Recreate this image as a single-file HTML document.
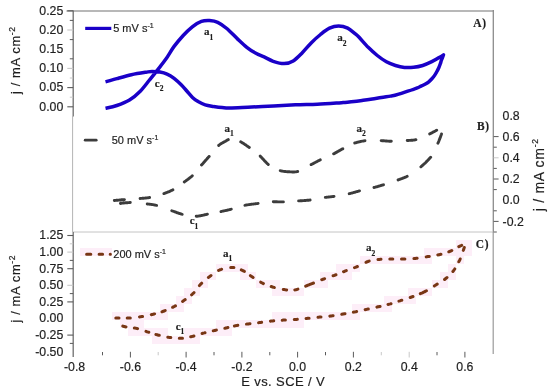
<!DOCTYPE html>
<html><head><meta charset="utf-8"><title>CV</title><style>
*{margin:0;padding:0}
html,body{width:550px;height:390px;overflow:hidden;background:#fff}
svg{display:block;will-change:transform}
text{font-family:"Liberation Sans",sans-serif;fill:#1e1e1e;stroke:#1e1e1e;stroke-width:0.18px}
.tl{font-size:12.3px}
.at{font-size:13px;letter-spacing:0.6px}
.sup{font-size:8.5px}
.xl{letter-spacing:0.4px}
.atb{font-size:14px;letter-spacing:0.7px}
.lg{font-size:11px}
.sup2{font-size:7px}
.pl{font-family:"Liberation Serif",serif;font-weight:bold;font-size:13px;letter-spacing:0.8px}
.pk{font-family:"Liberation Serif",serif;font-weight:bold;font-size:11px}
.sb{font-size:7.5px}
</style></head>
<body><svg width="550" height="390" viewBox="0 0 550 390">
<rect x="0" y="0" width="550" height="390" fill="#fff"/>
<line x1="66.5" y1="11" x2="494" y2="11" stroke="#a0a0a0" stroke-width="1.6"/>
<line x1="493.3" y1="10" x2="493.3" y2="232" stroke="#8c8c8c" stroke-width="1.3"/>
<line x1="73.2" y1="10.5" x2="73.2" y2="116.5" stroke="#6e6e6e" stroke-width="1.3"/>
<line x1="72.6" y1="116" x2="72.6" y2="232" stroke="#b4b4b4" stroke-width="1"/>
<line x1="73" y1="232" x2="493.5" y2="232" stroke="#c4c4c4" stroke-width="1"/>
<line x1="493.2" y1="232" x2="493.2" y2="354" stroke="#9a9a9a" stroke-width="1.2"/>
<line x1="73.2" y1="232" x2="73.2" y2="357" stroke="#6e6e6e" stroke-width="1.3"/>
<line x1="67.3" y1="10.8" x2="73.2" y2="10.8" stroke="#5a5a5a" stroke-width="1.1"/>
<line x1="69.8" y1="20.4" x2="73.2" y2="20.4" stroke="#5a5a5a" stroke-width="1.0"/>
<line x1="67.3" y1="30.0" x2="73.2" y2="30.0" stroke="#c8c8c8" stroke-width="1.1"/>
<line x1="69.8" y1="39.6" x2="73.2" y2="39.6" stroke="#5a5a5a" stroke-width="1.0"/>
<line x1="69.8" y1="58.8" x2="73.2" y2="58.8" stroke="#5a5a5a" stroke-width="1.0"/>
<line x1="67.3" y1="68.4" x2="73.2" y2="68.4" stroke="#c8c8c8" stroke-width="1.1"/>
<line x1="69.8" y1="78.0" x2="73.2" y2="78.0" stroke="#c8c8c8" stroke-width="1.0"/>
<line x1="67.3" y1="87.6" x2="73.2" y2="87.6" stroke="#5a5a5a" stroke-width="1.1"/>
<line x1="69.8" y1="97.2" x2="73.2" y2="97.2" stroke="#c8c8c8" stroke-width="1.0"/>
<line x1="67.3" y1="106.8" x2="73.2" y2="106.8" stroke="#5a5a5a" stroke-width="1.1"/>
<text x="63.3" y="14.6" class="tl" text-anchor="end">0.25</text>
<text x="63.3" y="33.8" class="tl" text-anchor="end">0.20</text>
<text x="63.3" y="53.0" class="tl" text-anchor="end">0.15</text>
<text x="63.3" y="72.2" class="tl" text-anchor="end">0.10</text>
<text x="63.3" y="91.4" class="tl" text-anchor="end">0.05</text>
<text x="63.3" y="110.6" class="tl" text-anchor="end">0.00</text>
<line x1="493.6" y1="136.6" x2="498.6" y2="136.6" stroke="#5a5a5a" stroke-width="1.0"/>
<line x1="493.6" y1="147.2" x2="496.8" y2="147.2" stroke="#5a5a5a" stroke-width="1.0"/>
<line x1="493.6" y1="157.8" x2="498.6" y2="157.8" stroke="#c8c8c8" stroke-width="1.0"/>
<line x1="493.6" y1="168.4" x2="496.8" y2="168.4" stroke="#5a5a5a" stroke-width="1.0"/>
<line x1="493.6" y1="179.0" x2="498.6" y2="179.0" stroke="#5a5a5a" stroke-width="1.0"/>
<line x1="493.6" y1="189.6" x2="496.8" y2="189.6" stroke="#5a5a5a" stroke-width="1.0"/>
<line x1="493.6" y1="210.8" x2="496.8" y2="210.8" stroke="#5a5a5a" stroke-width="1.0"/>
<line x1="493.6" y1="221.4" x2="498.6" y2="221.4" stroke="#5a5a5a" stroke-width="1.0"/>
<line x1="493.6" y1="232.0" x2="496.8" y2="232.0" stroke="#5a5a5a" stroke-width="1.0"/>
<text x="502.6" y="119.5" class="tl">0.8</text>
<text x="502.6" y="140.7" class="tl">0.6</text>
<text x="502.6" y="161.9" class="tl">0.4</text>
<text x="502.6" y="183.1" class="tl">0.2</text>
<text x="502.6" y="204.3" class="tl">0.0</text>
<text x="502.6" y="225.5" class="tl">-0.2</text>
<line x1="67.3" y1="235.5" x2="73.2" y2="235.5" stroke="#5a5a5a" stroke-width="1.1"/>
<line x1="69.8" y1="243.8" x2="73.2" y2="243.8" stroke="#c8c8c8" stroke-width="1.0"/>
<line x1="67.3" y1="252.1" x2="73.2" y2="252.1" stroke="#c8c8c8" stroke-width="1.1"/>
<line x1="69.8" y1="260.4" x2="73.2" y2="260.4" stroke="#5a5a5a" stroke-width="1.0"/>
<line x1="67.3" y1="268.7" x2="73.2" y2="268.7" stroke="#5a5a5a" stroke-width="1.1"/>
<line x1="67.3" y1="285.3" x2="73.2" y2="285.3" stroke="#c8c8c8" stroke-width="1.1"/>
<line x1="69.8" y1="293.6" x2="73.2" y2="293.6" stroke="#5a5a5a" stroke-width="1.0"/>
<line x1="67.3" y1="301.9" x2="73.2" y2="301.9" stroke="#5a5a5a" stroke-width="1.1"/>
<line x1="67.3" y1="335.1" x2="73.2" y2="335.1" stroke="#5a5a5a" stroke-width="1.1"/>
<line x1="69.8" y1="343.4" x2="73.2" y2="343.4" stroke="#5a5a5a" stroke-width="1.0"/>
<text x="63.3" y="239.3" class="tl" text-anchor="end">1.25</text>
<text x="63.3" y="255.9" class="tl" text-anchor="end">1.00</text>
<text x="63.3" y="272.5" class="tl" text-anchor="end">0.75</text>
<text x="63.3" y="289.1" class="tl" text-anchor="end">0.50</text>
<text x="63.3" y="305.7" class="tl" text-anchor="end">0.25</text>
<text x="63.3" y="322.3" class="tl" text-anchor="end">0.00</text>
<text x="63.3" y="338.9" class="tl" text-anchor="end">-0.25</text>
<text x="63.3" y="355.5" class="tl" text-anchor="end">-0.50</text>
<text x="74.6" y="370.6" class="tl" text-anchor="middle">-0.8</text>
<line x1="102.5" y1="352" x2="102.5" y2="355.3" stroke="#5a5a5a" stroke-width="1.0"/>
<line x1="130.4" y1="351.8" x2="130.4" y2="357.5" stroke="#5a5a5a" stroke-width="1.0"/>
<text x="130.4" y="370.6" class="tl" text-anchor="middle">-0.6</text>
<line x1="158.2" y1="352" x2="158.2" y2="355.3" stroke="#c8c8c8" stroke-width="1.0"/>
<line x1="186.1" y1="351.8" x2="186.1" y2="357.5" stroke="#5a5a5a" stroke-width="1.0"/>
<text x="186.1" y="370.6" class="tl" text-anchor="middle">-0.4</text>
<line x1="214.0" y1="352" x2="214.0" y2="355.3" stroke="#5a5a5a" stroke-width="1.0"/>
<line x1="241.9" y1="351.8" x2="241.9" y2="357.5" stroke="#5a5a5a" stroke-width="1.0"/>
<text x="241.9" y="370.6" class="tl" text-anchor="middle">-0.2</text>
<line x1="269.8" y1="352" x2="269.8" y2="355.3" stroke="#5a5a5a" stroke-width="1.0"/>
<line x1="297.6" y1="351.8" x2="297.6" y2="357.5" stroke="#5a5a5a" stroke-width="1.0"/>
<text x="297.6" y="370.6" class="tl" text-anchor="middle">0.0</text>
<line x1="325.5" y1="352" x2="325.5" y2="355.3" stroke="#5a5a5a" stroke-width="1.0"/>
<line x1="353.4" y1="351.8" x2="353.4" y2="357.5" stroke="#5a5a5a" stroke-width="1.0"/>
<text x="353.4" y="370.6" class="tl" text-anchor="middle">0.2</text>
<line x1="381.3" y1="352" x2="381.3" y2="355.3" stroke="#c8c8c8" stroke-width="1.0"/>
<line x1="409.2" y1="351.8" x2="409.2" y2="357.5" stroke="#c8c8c8" stroke-width="1.0"/>
<text x="409.2" y="370.6" class="tl" text-anchor="middle">0.4</text>
<line x1="437.0" y1="352" x2="437.0" y2="355.3" stroke="#5a5a5a" stroke-width="1.0"/>
<line x1="464.9" y1="351.8" x2="464.9" y2="357.5" stroke="#5a5a5a" stroke-width="1.0"/>
<text x="464.9" y="370.6" class="tl" text-anchor="middle">0.6</text>
<text class="at" transform="translate(19.6,94) rotate(-90)">j / mA cm<tspan class="sup" dy="-5">-2</tspan></text>
<text class="at" transform="translate(19.6,322.5) rotate(-90)">j / mA cm<tspan class="sup" dy="-5">-2</tspan></text>
<text class="at atb" transform="translate(544.3,211.2) rotate(-90)">j / mA cm<tspan class="sup" dy="-6.5">-2</tspan></text>
<text class="at xl" x="241.2" y="385.6">E vs. SCE / V</text>
<text class="pl" transform="translate(473.2,26.9) scale(0.88,1)">A)</text>
<text class="pl" transform="translate(477,130.2) scale(0.88,1)">B)</text>
<text class="pl" transform="translate(475.8,248.2) scale(0.88,1)">C)</text>
<text class="pk" x="204.1" y="35.4">a<tspan class="sb" dy="4.3">1</tspan></text>
<text class="pk" x="337.2" y="41.4">a<tspan class="sb" dy="4.3">2</tspan></text>
<text class="pk" x="154.8" y="86.6">c<tspan class="sb" dy="4.3">2</tspan></text>
<text class="pk" x="224.4" y="131.6">a<tspan class="sb" dy="4.3">1</tspan></text>
<text class="pk" x="356.4" y="131.7">a<tspan class="sb" dy="4.3">2</tspan></text>
<text class="pk" x="189.7" y="224.2">c<tspan class="sb" dy="4.3">1</tspan></text>
<text class="pk" x="222.9" y="257.1">a<tspan class="sb" dy="4.3">1</tspan></text>
<text class="pk" x="365.9" y="251.4">a<tspan class="sb" dy="4.3">2</tspan></text>
<text class="pk" x="175.7" y="329.9">c<tspan class="sb" dy="4.3">1</tspan></text>
<line x1="85.2" y1="28.4" x2="111.3" y2="28.4" stroke="#1a00c8" stroke-width="3.2"/>
<text class="lg" x="113.2" y="31.8">5 mV s<tspan class="sup2" dy="-4.3">-1</tspan></text>
<line x1="85.2" y1="140.2" x2="96.2" y2="140.2" stroke="#3c3c3c" stroke-width="2.8" stroke-linecap="round"/>
<text class="lg" x="111.7" y="144">50 mV s<tspan class="sup2" dy="-4.3">-1</tspan></text>
<rect x="80" y="248" width="32" height="8" fill="#fdeef8"/>
<path d="M86.6 254.2 H90.8 M99.1 254.2 H102.6 M110.2 254.2 H110.4" stroke="#783614" stroke-width="3" stroke-linecap="round" fill="none"/>
<text class="lg" x="113.3" y="258.2">200 mV s<tspan class="sup2" dy="-4.3">-1</tspan></text>
<path d="M105.5 108.2 C107.4 107.8 112.8 106.9 116.8 105.5 C120.8 104.1 125.5 102.4 129.5 100.0 C133.4 97.6 137.2 94.2 140.5 90.9 C143.8 87.6 146.8 83.3 149.5 80.0 C152.2 76.7 154.1 74.4 156.8 70.9 C159.5 67.4 163.0 63.2 165.9 59.1 C168.8 55.0 171.2 50.3 174.1 46.4 C177.0 42.5 180.2 38.8 183.2 35.5 C186.2 32.2 189.3 29.2 192.3 26.8 C195.3 24.4 198.5 22.4 201.4 21.4 C204.3 20.4 206.8 20.5 209.5 20.6 C212.2 20.8 214.8 21.0 217.7 22.3 C220.6 23.6 223.5 25.7 226.8 28.5 C230.1 31.3 234.4 36.0 237.7 39.1 C241.0 42.2 243.8 44.9 246.8 47.3 C249.8 49.7 253.0 51.7 255.9 53.3 C258.8 54.9 261.2 55.6 264.1 56.9 C267.0 58.2 269.9 60.2 273.2 61.3 C276.5 62.4 280.8 63.7 284.1 63.6 C287.4 63.5 290.2 62.7 293.2 60.9 C296.2 59.1 299.3 55.7 302.3 52.7 C305.3 49.7 308.4 45.7 311.4 42.7 C314.4 39.7 317.5 36.9 320.5 34.5 C323.5 32.1 326.5 29.6 329.5 28.2 C332.5 26.8 335.6 26.0 338.6 26.0 C341.6 26.0 345.0 26.9 347.7 28.2 C350.4 29.5 353.1 32.1 355.0 33.6 C356.9 35.1 356.9 35.0 359.1 37.3 C361.3 39.6 365.2 44.3 368.2 47.3 C371.2 50.3 374.3 53.1 377.3 55.5 C380.3 57.9 383.4 60.1 386.4 61.8 C389.4 63.5 392.5 64.6 395.5 65.5 C398.5 66.4 401.5 67.1 404.5 67.4 C407.5 67.7 410.6 67.6 413.6 67.3 C416.6 67.0 419.7 66.4 422.7 65.5 C425.7 64.6 429.1 63.0 431.8 61.7 C434.5 60.4 437.2 58.8 439.1 57.6 C441.1 56.5 442.8 55.3 443.5 54.8 L443.5 54.8 C443.3 55.4 442.7 57.2 442.3 58.2 C441.9 59.2 441.6 59.6 441.3 60.5 C441.0 61.4 440.7 62.6 440.3 63.8 C439.9 65.0 439.4 66.4 438.8 67.7 C438.2 69.0 437.6 70.2 436.9 71.5 C436.2 72.8 435.4 74.2 434.6 75.4 C433.8 76.6 432.9 77.7 431.9 78.8 C430.9 79.9 429.9 80.9 428.8 81.8 C427.7 82.7 426.3 83.5 425.0 84.2 C423.7 84.9 422.3 85.6 421.0 86.2 C419.7 86.8 418.6 87.4 417.3 87.9 C416.1 88.4 415.1 88.8 413.5 89.3 C411.9 89.8 409.8 90.5 407.8 91.2 C405.8 91.9 403.5 92.7 401.4 93.4 C399.3 94.1 396.8 94.8 395.0 95.3 C393.2 95.8 392.8 95.7 390.5 96.1 C388.2 96.5 384.4 97.0 381.4 97.5 C378.4 98.0 375.3 98.4 372.3 98.9 C369.3 99.4 366.2 99.9 363.2 100.3 C360.2 100.7 357.1 101.2 354.1 101.5 C351.1 101.8 347.5 102.2 345.0 102.4 C342.5 102.6 343.7 102.6 339.1 102.9 C334.5 103.2 324.6 103.9 317.3 104.2 C310.0 104.5 302.8 104.5 295.5 104.8 C288.2 105.1 280.9 105.5 273.6 105.9 C266.3 106.3 259.1 106.7 251.8 107.0 C244.5 107.3 234.9 107.9 230.0 108.0 C225.1 108.1 224.8 107.8 222.1 107.6 C219.4 107.4 216.4 107.0 213.6 106.6 C210.8 106.1 207.8 105.7 205.2 104.9 C202.6 104.1 200.2 102.8 198.1 101.6 C196.0 100.3 194.4 99.2 192.5 97.4 C190.6 95.6 188.7 93.1 186.8 91.0 C184.9 88.9 183.3 86.8 181.2 84.7 C179.1 82.6 176.4 80.1 174.1 78.3 C171.8 76.5 169.4 75.1 167.1 74.1 C164.8 73.0 162.5 72.4 160.0 72.0 C157.5 71.6 154.3 71.5 152.0 71.5 C149.7 71.5 149.3 71.7 145.9 72.2 C142.5 72.7 136.2 73.6 131.4 74.7 C126.6 75.8 121.1 77.4 116.8 78.6 C112.5 79.8 107.4 81.4 105.5 81.9" fill="none" stroke="#1a00c8" stroke-width="3.5" stroke-linejoin="round"/>
<path d="M114.3 200.5 L114.7 200.5 L115.1 200.4 L115.5 200.4 L116.0 200.3 L116.5 200.3 L117.0 200.3 L117.5 200.2 L118.1 200.2 L118.6 200.1 L119.2 200.1 L119.8 200.0 L120.3 200.0 L120.9 199.9 L121.5 199.8 L122.1 199.8 L122.7 199.7 L123.2 199.7 L123.8 199.7 L124.4 199.6 M140.1 198.5 L140.6 198.4 L141.1 198.4 L141.6 198.4 L142.1 198.3 L142.6 198.3 L143.1 198.3 L143.6 198.2 L144.1 198.2 L144.6 198.1 L145.1 198.1 L145.6 198.0 L146.1 198.0 L146.6 197.9 L147.1 197.9 L147.6 197.8 L148.1 197.7 L148.6 197.7 L149.1 197.6 L149.6 197.5 M163.9 193.6 L164.4 193.4 L164.8 193.2 L165.3 193.1 L165.8 192.9 L166.3 192.7 L166.7 192.5 L167.2 192.3 L167.7 192.1 L168.2 191.9 L168.6 191.8 L169.1 191.6 L169.6 191.4 L170.0 191.2 L170.5 190.9 L170.9 190.7 L171.4 190.5 L171.8 190.3 L172.3 190.1 L172.7 189.9 L172.9 189.8 M184.3 182.0 L184.7 181.7 L185.1 181.4 L185.5 181.1 L185.9 180.8 L186.3 180.5 L186.7 180.2 L187.1 179.9 L187.6 179.6 L188.0 179.3 L188.4 179.0 L188.8 178.7 L189.2 178.3 L189.6 178.0 L190.0 177.7 L190.4 177.4 L190.8 177.1 L191.2 176.8 L191.6 176.4 L192.0 176.1 L192.3 175.8 M201.5 165.0 L201.9 164.7 L202.2 164.3 L202.5 163.9 L202.9 163.6 L203.2 163.2 L203.5 162.8 L203.9 162.4 L204.2 162.0 L204.6 161.6 L204.9 161.2 L205.3 160.8 L205.6 160.4 L206.0 160.0 L206.3 159.6 L206.7 159.2 L207.0 158.8 L207.4 158.4 L207.7 158.1 L208.0 157.7 L208.4 157.3 L208.7 156.9 L209.0 156.5 L209.2 156.4 M218.7 145.4 L219.1 145.0 L219.6 144.7 L220.0 144.4 L220.4 144.1 L220.9 143.8 L221.3 143.5 L221.7 143.3 L222.1 143.0 L222.6 142.8 L223.0 142.6 L223.4 142.3 L223.8 142.1 L224.2 141.9 L224.6 141.7 L225.0 141.5 L225.5 141.2 L226.0 141.0 L226.4 140.7 L226.8 140.4 L227.3 140.2 L227.7 139.9 L228.1 139.7 L228.3 139.6 M240.7 141.8 L241.1 142.0 L241.5 142.3 L241.9 142.5 L242.3 142.8 L242.8 143.0 L243.2 143.3 L243.7 143.6 L244.1 143.9 L244.5 144.2 L245.0 144.5 L245.4 144.8 L245.9 145.1 L246.3 145.4 L246.7 145.7 L247.2 146.0 L247.6 146.3 L248.0 146.6 L248.5 146.9 L248.9 147.2 L249.3 147.5 M260.2 156.1 L260.5 156.4 L260.8 156.8 L261.2 157.1 L261.5 157.5 L261.9 157.9 L262.2 158.3 L262.6 158.6 L263.0 159.0 L263.3 159.4 L263.7 159.8 L264.0 160.2 L264.4 160.6 L264.7 161.0 L265.1 161.3 L265.5 161.7 L265.8 162.1 L266.2 162.5 L266.5 162.8 L266.9 163.2 L267.2 163.5 L267.6 163.9 L268.0 164.2 L268.3 164.5 M280.2 170.7 L280.7 170.8 L281.2 170.9 L281.7 171.0 L282.2 171.1 L282.7 171.2 L283.2 171.3 L283.7 171.4 L284.3 171.4 L284.8 171.5 L285.3 171.5 L285.8 171.6 L286.3 171.6 L286.8 171.7 L287.3 171.7 L287.8 171.7 L288.3 171.8 L288.8 171.8 L289.3 171.8 L289.8 171.8 L290.3 171.9 L290.8 171.9 L291.2 171.9 L291.7 171.9 L292.2 172.0 L292.7 172.0 L293.2 172.0 L293.7 172.0 L294.2 172.0 L294.7 171.9 L295.2 171.9 L295.7 171.9 L296.2 171.8 L296.7 171.7 L297.2 171.6 L297.7 171.5 M311.1 164.6 L311.6 164.4 L312.0 164.1 L312.5 163.9 L312.9 163.7 L313.4 163.4 L313.8 163.2 L314.3 162.9 L314.7 162.7 L315.1 162.5 L315.6 162.2 L316.0 162.0 L316.5 161.8 L316.9 161.5 L317.4 161.3 L317.8 161.1 L318.3 160.8 L318.7 160.6 L319.2 160.4 L319.6 160.2 L320.1 159.9 L320.3 159.8 M333.6 153.8 L334.1 153.6 L334.5 153.4 L335.0 153.1 L335.4 152.9 L335.9 152.6 L336.3 152.4 L336.8 152.1 L337.2 151.9 L337.7 151.6 L338.1 151.3 L338.6 151.1 L339.0 150.8 L339.5 150.6 L339.9 150.3 L340.4 150.1 L340.8 149.8 L341.2 149.6 L341.7 149.3 L342.1 149.1 L342.5 148.9 L342.8 148.8 M354.7 143.0 L355.2 142.9 L355.6 142.8 L356.1 142.6 L356.6 142.5 L357.0 142.4 L357.5 142.2 L358.0 142.1 L358.5 142.0 L359.0 141.9 L359.5 141.8 L360.0 141.6 L360.5 141.5 L361.0 141.4 L361.5 141.3 L362.0 141.2 L362.5 141.1 L363.0 141.1 L363.5 141.0 L364.0 140.9 L364.5 140.8 L365.0 140.8 M381.2 140.6 L381.7 140.7 L382.2 140.7 L382.7 140.7 L383.3 140.8 L383.8 140.8 L384.3 140.8 L384.8 140.9 L385.3 140.9 L385.8 141.0 L386.3 141.0 L386.8 141.0 L387.3 141.1 L387.8 141.1 L388.3 141.1 L388.8 141.2 L389.3 141.2 L389.8 141.2 L390.3 141.2 L390.8 141.3 L391.3 141.3 M407.2 140.5 L407.8 140.5 L408.3 140.5 L408.8 140.4 L409.3 140.4 L409.8 140.4 L410.3 140.4 L410.8 140.3 L411.3 140.3 L411.8 140.3 L412.3 140.2 L412.8 140.2 L413.2 140.1 L413.7 140.1 L414.2 140.0 L414.7 139.9 L415.2 139.8 L415.7 139.8 L415.9 139.7 M429.7 133.9 L430.2 133.7 L430.7 133.4 L431.2 133.2 L431.7 132.9 L432.1 132.7 L432.6 132.4 L433.1 132.2 L433.5 131.9 L434.0 131.7 L434.4 131.5 L434.9 131.2 L435.3 131.0 L435.7 130.8 L436.1 130.5 L436.5 130.3 L436.7 130.2 M441.5 134.0 L441.4 134.4 L441.2 134.8 L441.1 135.3 L440.9 135.7 L440.7 136.2 L440.6 136.7 L440.4 137.1 L440.2 137.6 L440.0 138.1 L439.8 138.6 L439.6 139.1 L439.4 139.6 L439.2 140.1 L439.0 140.7 L438.8 141.2 L438.6 141.7 L438.4 142.2 L438.1 142.7 L437.9 143.2 M430.7 157.2 L430.4 157.5 L430.0 157.9 L429.7 158.3 L429.4 158.6 L429.1 159.0 L428.7 159.4 L428.4 159.7 L428.0 160.1 L427.7 160.5 L427.3 160.9 L426.9 161.2 L426.6 161.6 L426.2 162.0 L425.8 162.3 L425.5 162.7 L425.1 163.1 L424.7 163.4 L424.3 163.8 L423.9 164.1 L423.5 164.5 L423.2 164.8 L422.8 165.2 L422.4 165.5 L422.0 165.9 L421.6 166.2 L421.3 166.5 L420.9 166.8 M407.2 176.3 L406.8 176.5 L406.3 176.8 L405.8 177.0 L405.4 177.2 L404.9 177.4 L404.4 177.6 L404.0 177.8 L403.5 177.9 L403.0 178.1 L402.6 178.3 L402.1 178.5 L401.6 178.6 L401.2 178.8 L400.7 179.0 L400.2 179.1 L399.8 179.3 L399.3 179.5 L398.8 179.6 L398.3 179.8 L398.1 179.9 M383.5 184.8 L383.0 184.9 L382.5 185.1 L382.0 185.2 L381.5 185.4 L381.0 185.5 L380.6 185.7 L380.1 185.8 L379.6 185.9 L379.1 186.1 L378.6 186.2 L378.1 186.4 L377.7 186.5 L377.2 186.6 L376.7 186.8 L376.2 186.9 L375.7 187.0 L375.2 187.2 L374.8 187.3 L374.3 187.4 L374.0 187.5 M359.5 190.9 L359.0 191.0 L358.5 191.2 L358.1 191.3 L357.6 191.4 L357.1 191.6 L356.6 191.7 L356.1 191.8 L355.6 192.0 L355.1 192.1 L354.6 192.3 L354.1 192.4 L353.7 192.5 L353.2 192.7 L352.7 192.8 L352.2 193.0 L351.7 193.1 L351.2 193.2 L350.7 193.3 L350.2 193.5 L349.7 193.6 L349.2 193.7 M334.0 196.4 L333.5 196.5 L333.0 196.5 L332.5 196.6 L332.0 196.6 L331.5 196.7 L331.0 196.7 L330.5 196.8 L330.0 196.9 L329.5 196.9 L329.0 197.0 L328.6 197.0 L328.1 197.1 L327.6 197.1 L327.1 197.2 L326.6 197.2 L326.1 197.3 L325.6 197.4 L325.3 197.4 M310.1 200.0 L309.6 200.1 L309.1 200.2 L308.6 200.2 L308.1 200.2 L307.6 200.3 L307.1 200.3 L306.5 200.4 L306.0 200.4 L305.5 200.5 L305.0 200.5 L304.5 200.5 L304.0 200.6 L303.4 200.6 L302.9 200.6 L302.4 200.7 L301.9 200.7 L301.4 200.7 L300.9 200.8 L300.4 200.8 L299.9 200.8 L299.4 200.9 L298.9 200.9 L298.6 200.9 M283.4 201.9 L282.9 201.9 L282.4 201.9 L281.9 201.9 L281.4 201.9 L280.9 201.9 L280.4 201.9 L279.9 201.9 L279.4 201.9 L278.9 201.9 L278.4 201.9 L277.8 201.9 L277.3 201.8 L276.8 201.8 L276.3 201.8 L275.8 201.8 L275.3 201.8 L274.8 201.8 L274.3 201.8 L273.8 201.8 L273.3 201.8 M258.1 203.4 L257.7 203.5 L257.2 203.6 L256.7 203.6 L256.2 203.7 L255.7 203.8 L255.1 203.8 L254.6 203.9 L254.1 203.9 L253.6 204.0 L253.0 204.1 L252.5 204.1 L252.0 204.2 L251.5 204.3 L250.9 204.3 L250.4 204.4 L249.9 204.5 L249.4 204.6 L248.8 204.6 L248.3 204.7 L247.8 204.8 L247.3 204.9 L246.8 204.9 L246.3 205.0 L245.9 205.1 L245.4 205.2 L244.9 205.3 M231.3 209.2 L230.8 209.3 L230.4 209.4 L229.9 209.6 L229.4 209.7 L228.9 209.8 L228.4 209.9 L227.9 210.0 L227.4 210.1 L226.9 210.3 L226.4 210.4 L225.9 210.5 L225.4 210.6 L224.9 210.7 L224.4 210.8 L223.9 210.9 L223.4 211.0 L222.9 211.1 L222.4 211.2 L221.9 211.3 L221.5 211.4 L221.0 211.6 M207.4 214.2 L206.8 214.4 L206.2 214.5 L205.7 214.6 L205.2 214.7 L204.6 214.8 L204.1 215.0 L203.6 215.1 L203.1 215.2 L202.7 215.3 L202.2 215.4 L201.7 215.5 L201.3 215.6 L200.8 215.7 L200.4 215.7 L200.0 215.8 L199.4 215.9 L198.9 216.0 L198.4 216.1 L198.0 216.1 L197.6 216.2 L197.2 216.2 L196.7 216.3 L196.2 216.3 M182.2 214.3 L181.7 214.2 L181.2 214.0 L180.8 213.9 L180.3 213.7 L179.8 213.6 L179.3 213.4 L178.9 213.3 L178.4 213.1 L177.9 212.9 L177.4 212.8 L176.9 212.6 L176.4 212.4 L175.9 212.2 L175.5 212.1 L175.0 211.9 L174.5 211.7 L174.0 211.5 L173.5 211.3 L173.0 211.2 L172.5 211.0 L172.0 210.8 L171.8 210.7 M156.6 205.4 L156.1 205.3 L155.6 205.2 L155.1 205.1 L154.7 205.0 L154.2 204.9 L153.7 204.8 L153.2 204.7 L152.7 204.6 L152.2 204.6 L151.8 204.5 L151.3 204.4 L150.8 204.4 L150.3 204.3 L149.8 204.3 L149.3 204.2 L148.8 204.1 L148.3 204.1 L147.8 204.0 L147.2 204.0 M130.3 202.5 L129.8 202.5 L129.2 202.6 L128.6 202.6 L128.0 202.6 L127.4 202.7 L126.8 202.7 L126.3 202.8 L125.7 202.8 L125.1 202.9 L124.6 202.9 L124.0 203.0 L123.5 203.0 L123.0 203.1 L122.5 203.1 L122.0 203.2 L121.5 203.3 L121.1 203.3 L120.7 203.3 L120.5 203.4" fill="none" stroke="#3c3c3c" stroke-width="2.9" stroke-linejoin="round" stroke-linecap="round"/>
<rect x="112" y="312" width="8" height="8" fill="#fdeef8"/>
<rect x="120" y="312" width="8" height="8" fill="#fdeef8"/>
<rect x="120" y="320" width="8" height="8" fill="#fdeef8"/>
<rect x="128" y="312" width="8" height="8" fill="#fdeef8"/>
<rect x="128" y="320" width="8" height="8" fill="#fdeef8"/>
<rect x="128" y="328" width="8" height="8" fill="#fdeef8"/>
<rect x="136" y="312" width="8" height="8" fill="#fdeef8"/>
<rect x="136" y="320" width="8" height="8" fill="#fdeef8"/>
<rect x="136" y="328" width="8" height="8" fill="#fdeef8"/>
<rect x="144" y="312" width="8" height="8" fill="#fdeef8"/>
<rect x="144" y="328" width="8" height="8" fill="#fdeef8"/>
<rect x="152" y="312" width="8" height="8" fill="#fdeef8"/>
<rect x="152" y="328" width="8" height="8" fill="#fdeef8"/>
<rect x="152" y="336" width="8" height="8" fill="#fdeef8"/>
<rect x="160" y="304" width="8" height="8" fill="#fdeef8"/>
<rect x="160" y="312" width="8" height="8" fill="#fdeef8"/>
<rect x="160" y="328" width="8" height="8" fill="#fdeef8"/>
<rect x="160" y="336" width="8" height="8" fill="#fdeef8"/>
<rect x="168" y="304" width="8" height="8" fill="#fdeef8"/>
<rect x="168" y="336" width="8" height="8" fill="#fdeef8"/>
<rect x="176" y="296" width="8" height="8" fill="#fdeef8"/>
<rect x="176" y="304" width="8" height="8" fill="#fdeef8"/>
<rect x="176" y="336" width="8" height="8" fill="#fdeef8"/>
<rect x="184" y="288" width="8" height="8" fill="#fdeef8"/>
<rect x="184" y="296" width="8" height="8" fill="#fdeef8"/>
<rect x="184" y="328" width="8" height="8" fill="#fdeef8"/>
<rect x="184" y="336" width="8" height="8" fill="#fdeef8"/>
<rect x="192" y="280" width="8" height="8" fill="#fdeef8"/>
<rect x="192" y="288" width="8" height="8" fill="#fdeef8"/>
<rect x="192" y="328" width="8" height="8" fill="#fdeef8"/>
<rect x="192" y="336" width="8" height="8" fill="#fdeef8"/>
<rect x="200" y="272" width="8" height="8" fill="#fdeef8"/>
<rect x="200" y="280" width="8" height="8" fill="#fdeef8"/>
<rect x="200" y="328" width="8" height="8" fill="#fdeef8"/>
<rect x="208" y="272" width="8" height="8" fill="#fdeef8"/>
<rect x="208" y="328" width="8" height="8" fill="#fdeef8"/>
<rect x="216" y="264" width="8" height="8" fill="#fdeef8"/>
<rect x="216" y="320" width="8" height="8" fill="#fdeef8"/>
<rect x="216" y="328" width="8" height="8" fill="#fdeef8"/>
<rect x="224" y="264" width="8" height="8" fill="#fdeef8"/>
<rect x="224" y="320" width="8" height="8" fill="#fdeef8"/>
<rect x="224" y="328" width="8" height="8" fill="#fdeef8"/>
<rect x="232" y="264" width="8" height="8" fill="#fdeef8"/>
<rect x="232" y="320" width="8" height="8" fill="#fdeef8"/>
<rect x="240" y="264" width="8" height="8" fill="#fdeef8"/>
<rect x="240" y="272" width="8" height="8" fill="#fdeef8"/>
<rect x="240" y="320" width="8" height="8" fill="#fdeef8"/>
<rect x="248" y="272" width="8" height="8" fill="#fdeef8"/>
<rect x="248" y="320" width="8" height="8" fill="#fdeef8"/>
<rect x="256" y="280" width="8" height="8" fill="#fdeef8"/>
<rect x="256" y="320" width="8" height="8" fill="#fdeef8"/>
<rect x="264" y="280" width="8" height="8" fill="#fdeef8"/>
<rect x="264" y="320" width="8" height="8" fill="#fdeef8"/>
<rect x="272" y="280" width="8" height="8" fill="#fdeef8"/>
<rect x="272" y="288" width="8" height="8" fill="#fdeef8"/>
<rect x="272" y="312" width="8" height="8" fill="#fdeef8"/>
<rect x="272" y="320" width="8" height="8" fill="#fdeef8"/>
<rect x="280" y="288" width="8" height="8" fill="#fdeef8"/>
<rect x="280" y="312" width="8" height="8" fill="#fdeef8"/>
<rect x="280" y="320" width="8" height="8" fill="#fdeef8"/>
<rect x="288" y="288" width="8" height="8" fill="#fdeef8"/>
<rect x="288" y="312" width="8" height="8" fill="#fdeef8"/>
<rect x="288" y="320" width="8" height="8" fill="#fdeef8"/>
<rect x="296" y="288" width="8" height="8" fill="#fdeef8"/>
<rect x="296" y="312" width="8" height="8" fill="#fdeef8"/>
<rect x="296" y="320" width="8" height="8" fill="#fdeef8"/>
<rect x="304" y="280" width="8" height="8" fill="#fdeef8"/>
<rect x="304" y="312" width="8" height="8" fill="#fdeef8"/>
<rect x="312" y="280" width="8" height="8" fill="#fdeef8"/>
<rect x="312" y="312" width="8" height="8" fill="#fdeef8"/>
<rect x="320" y="272" width="8" height="8" fill="#fdeef8"/>
<rect x="320" y="280" width="8" height="8" fill="#fdeef8"/>
<rect x="320" y="312" width="8" height="8" fill="#fdeef8"/>
<rect x="328" y="272" width="8" height="8" fill="#fdeef8"/>
<rect x="328" y="312" width="8" height="8" fill="#fdeef8"/>
<rect x="336" y="264" width="8" height="8" fill="#fdeef8"/>
<rect x="336" y="272" width="8" height="8" fill="#fdeef8"/>
<rect x="336" y="312" width="8" height="8" fill="#fdeef8"/>
<rect x="344" y="264" width="8" height="8" fill="#fdeef8"/>
<rect x="344" y="272" width="8" height="8" fill="#fdeef8"/>
<rect x="344" y="312" width="8" height="8" fill="#fdeef8"/>
<rect x="352" y="264" width="8" height="8" fill="#fdeef8"/>
<rect x="352" y="304" width="8" height="8" fill="#fdeef8"/>
<rect x="352" y="312" width="8" height="8" fill="#fdeef8"/>
<rect x="360" y="256" width="8" height="8" fill="#fdeef8"/>
<rect x="360" y="304" width="8" height="8" fill="#fdeef8"/>
<rect x="368" y="256" width="8" height="8" fill="#fdeef8"/>
<rect x="368" y="304" width="8" height="8" fill="#fdeef8"/>
<rect x="376" y="256" width="8" height="8" fill="#fdeef8"/>
<rect x="376" y="304" width="8" height="8" fill="#fdeef8"/>
<rect x="384" y="256" width="8" height="8" fill="#fdeef8"/>
<rect x="384" y="296" width="8" height="8" fill="#fdeef8"/>
<rect x="384" y="304" width="8" height="8" fill="#fdeef8"/>
<rect x="392" y="256" width="8" height="8" fill="#fdeef8"/>
<rect x="392" y="296" width="8" height="8" fill="#fdeef8"/>
<rect x="400" y="256" width="8" height="8" fill="#fdeef8"/>
<rect x="400" y="296" width="8" height="8" fill="#fdeef8"/>
<rect x="408" y="256" width="8" height="8" fill="#fdeef8"/>
<rect x="408" y="288" width="8" height="8" fill="#fdeef8"/>
<rect x="408" y="296" width="8" height="8" fill="#fdeef8"/>
<rect x="416" y="256" width="8" height="8" fill="#fdeef8"/>
<rect x="416" y="288" width="8" height="8" fill="#fdeef8"/>
<rect x="424" y="248" width="8" height="8" fill="#fdeef8"/>
<rect x="424" y="256" width="8" height="8" fill="#fdeef8"/>
<rect x="424" y="288" width="8" height="8" fill="#fdeef8"/>
<rect x="432" y="248" width="8" height="8" fill="#fdeef8"/>
<rect x="432" y="280" width="8" height="8" fill="#fdeef8"/>
<rect x="440" y="248" width="8" height="8" fill="#fdeef8"/>
<rect x="440" y="272" width="8" height="8" fill="#fdeef8"/>
<rect x="440" y="280" width="8" height="8" fill="#fdeef8"/>
<rect x="448" y="248" width="8" height="8" fill="#fdeef8"/>
<rect x="448" y="264" width="8" height="8" fill="#fdeef8"/>
<rect x="448" y="272" width="8" height="8" fill="#fdeef8"/>
<rect x="456" y="240" width="8" height="8" fill="#fdeef8"/>
<rect x="456" y="248" width="8" height="8" fill="#fdeef8"/>
<rect x="456" y="256" width="8" height="8" fill="#fdeef8"/>
<rect x="464" y="240" width="8" height="8" fill="#fdeef8"/>
<rect x="464" y="248" width="8" height="8" fill="#fdeef8"/>
<path d="M115.8 317.9 L116.4 317.9 L117.1 318.0 L117.9 318.0 L118.7 318.0 L119.0 318.0 M127.2 318.0 L128.0 318.0 L128.7 318.0 L129.5 317.9 L130.3 317.9 L130.3 317.9 M139.5 316.9 L140.2 316.8 L141.0 316.7 L141.7 316.6 L142.5 316.5 L142.5 316.5 M151.3 314.7 L152.0 314.5 L152.7 314.4 L153.4 314.2 L154.1 314.0 L154.6 313.9 M162.0 311.8 L162.7 311.5 L163.4 311.3 L164.1 311.0 L164.8 310.7 L165.2 310.6 M172.6 307.3 L173.3 307.0 L173.9 306.6 L174.6 306.3 L175.3 305.9 L175.5 305.8 M182.6 301.4 L183.2 301.0 L183.8 300.6 L184.4 300.1 L185.0 299.7 L185.2 299.6 M191.6 294.8 L192.2 294.3 L192.7 293.8 L193.2 293.3 L193.8 292.8 L194.0 292.6 M199.4 285.6 L199.9 285.0 L200.5 284.4 L201.0 283.9 L201.5 283.4 L201.7 283.2 M208.4 277.5 L209.0 277.1 L209.6 276.6 L210.2 276.1 L210.8 275.7 L211.0 275.5 M218.6 270.4 L219.3 270.1 L219.9 269.8 L220.6 269.6 L221.4 269.3 L221.6 269.2 M230.7 267.4 L231.4 267.4 L232.1 267.4 L232.8 267.4 L233.6 267.5 L233.9 267.5 M241.3 269.9 L241.9 270.2 L242.6 270.5 L243.3 270.8 L243.9 271.2 L244.4 271.4 M250.4 275.7 L251.0 276.1 L251.7 276.5 L252.3 276.9 L252.9 277.3 L253.1 277.5 M260.7 282.2 L261.3 282.6 L262.0 282.9 L262.7 283.2 L263.4 283.6 L263.4 283.6 M271.2 286.5 L271.9 286.8 L272.6 287.0 L273.3 287.2 L274.1 287.4 L274.3 287.5 M283.3 289.4 L283.9 289.5 L284.5 289.6 L285.3 289.8 L286.3 289.9 L286.6 290.0 M294.8 289.9 L295.7 289.8 L296.7 289.5 L297.3 289.3 L297.9 289.1 L297.9 289.1 M305.7 286.1 L306.4 285.8 L307.2 285.5 L308.0 285.2 L308.6 284.9 L309.3 284.7 L310.0 284.4 L310.7 284.1 L311.4 283.8 L312.1 283.6 L312.8 283.3 L313.5 283.0 L313.5 283.0 M321.7 279.7 L322.4 279.5 L323.1 279.2 L323.9 279.0 L324.6 278.7 L324.6 278.7 M333.1 275.8 L333.8 275.6 L334.5 275.3 L335.3 275.0 L336.0 274.8 L336.0 274.8 M343.5 271.7 L344.2 271.5 L344.9 271.2 L345.6 270.9 L346.3 270.6 L346.3 270.6 M354.5 267.6 L355.3 267.4 L356.0 267.1 L356.7 266.8 L357.4 266.5 L357.4 266.5 M366.0 262.3 L366.7 262.0 L367.4 261.7 L368.0 261.5 L368.7 261.2 L369.2 261.1 M378.0 259.5 L378.7 259.4 L379.5 259.4 L380.3 259.3 L381.0 259.2 L381.0 259.2 M389.8 259.0 L390.6 259.0 L391.3 259.0 L392.1 259.0 L392.8 259.0 L392.8 259.0 M401.5 259.0 L402.2 259.0 L403.0 259.0 L403.7 259.0 L404.5 259.0 L404.9 259.0 M413.9 258.5 L414.7 258.5 L415.4 258.4 L416.2 258.3 L416.9 258.3 L417.1 258.2 M426.2 256.9 L427.0 256.7 L427.7 256.6 L428.5 256.5 L429.3 256.4 L429.3 256.4 M437.8 255.0 L438.6 254.8 L439.3 254.7 L440.0 254.5 L440.8 254.3 L441.0 254.3 M448.8 251.8 L449.5 251.5 L450.2 251.3 L450.8 251.0 L451.6 250.7 L451.8 250.5 M458.8 246.7 L459.6 246.3 L460.4 245.9 L461.2 245.6 L461.7 245.3 M464.3 247.5 L464.1 248.1 L463.9 248.7 L463.7 249.4 L463.4 250.1 L463.3 250.4 M460.2 259.0 L459.9 259.7 L459.5 260.4 L459.2 261.1 L458.8 261.8 L458.8 261.8 M454.8 268.9 L454.4 269.5 L453.9 270.2 L453.3 271.0 L452.9 271.5 L452.9 271.5 M447.0 277.5 L446.4 278.1 L445.8 278.5 L445.2 279.0 L444.6 279.5 L444.6 279.5 M437.2 284.1 L436.5 284.5 L435.9 284.9 L435.3 285.3 L434.6 285.7 L434.4 285.9 M426.4 290.8 L425.7 291.2 L425.0 291.5 L424.4 291.9 L423.7 292.2 L423.0 292.5 L422.4 292.8 L421.7 293.1 L421.0 293.4 L420.3 293.7 L420.3 293.7 M413.0 296.5 L412.3 296.8 L411.6 297.0 L410.9 297.3 L410.2 297.5 L410.2 297.5 M401.8 300.2 L401.1 300.4 L400.4 300.7 L399.7 300.9 L398.9 301.1 L398.9 301.1 M391.0 303.7 L390.3 303.9 L389.5 304.1 L388.8 304.3 L388.0 304.5 L388.0 304.5 M380.1 306.4 L379.4 306.5 L378.7 306.7 L377.9 306.8 L377.2 307.0 L376.9 307.1 M368.3 309.0 L367.6 309.1 L366.9 309.3 L366.1 309.4 L365.4 309.6 L365.2 309.7 M356.6 311.5 L355.9 311.7 L355.1 311.9 L354.4 312.0 L353.7 312.1 L353.4 312.2 M345.0 313.7 L344.3 313.8 L343.5 314.0 L342.8 314.1 L342.0 314.2 L341.8 314.3 M333.1 315.7 L332.3 315.8 L331.6 315.9 L330.8 316.0 L330.1 316.0 L329.9 316.1 M321.0 317.0 L320.3 317.0 L319.5 317.1 L318.8 317.2 L318.0 317.3 L318.0 317.3 M309.1 318.2 L308.4 318.2 L307.6 318.3 L306.9 318.4 L306.1 318.5 L306.1 318.5 M297.3 319.3 L296.6 319.4 L295.8 319.5 L295.1 319.5 L294.3 319.6 L294.3 319.6 M285.4 320.1 L284.7 320.1 L283.9 320.1 L283.2 320.1 L282.4 320.2 L282.2 320.2 M273.7 320.8 L272.9 320.9 L272.0 321.0 L271.4 321.1 L270.7 321.1 L270.5 321.2 M261.6 322.3 L260.9 322.4 L260.1 322.5 L259.4 322.6 L258.6 322.7 L258.6 322.7 M250.0 323.7 L249.2 323.8 L248.5 323.9 L247.8 323.9 L247.0 324.0 L246.5 324.1 M237.8 325.3 L237.1 325.4 L236.3 325.6 L235.6 325.7 L234.9 325.9 L234.4 326.0 M227.9 327.5 L227.2 327.7 L226.5 327.9 L225.7 328.0 L225.0 328.2 L224.8 328.2 M216.4 330.1 L215.6 330.3 L214.9 330.5 L214.2 330.6 L213.5 330.8 L213.2 330.8 M205.0 332.7 L204.3 332.9 L203.5 333.1 L202.8 333.3 L202.1 333.5 L202.1 333.5 M193.9 336.0 L193.2 336.2 L192.5 336.4 L191.8 336.6 L191.1 336.7 L190.7 336.8 M182.5 338.2 L181.8 338.2 L181.0 338.3 L180.3 338.3 L179.5 338.3 L179.3 338.3 M170.8 337.6 L170.0 337.5 L169.3 337.4 L168.5 337.3 L167.8 337.2 L167.8 337.2 M159.3 335.3 L158.5 335.2 L157.8 335.0 L157.1 334.8 L156.4 334.6 L155.9 334.5 M148.8 332.3 L148.1 332.1 L147.4 331.9 L146.7 331.7 L146.0 331.4 L146.0 331.4 M137.6 328.6 L136.9 328.4 L136.1 328.3 L135.4 328.1 L134.6 327.9 L134.3 327.9 M126.0 327.0 L125.2 326.8 L124.1 326.5 L123.3 326.3 L122.8 326.1" fill="none" stroke="#783614" stroke-width="3" stroke-linecap="round" stroke-linejoin="round"/>
</svg></body></html>
